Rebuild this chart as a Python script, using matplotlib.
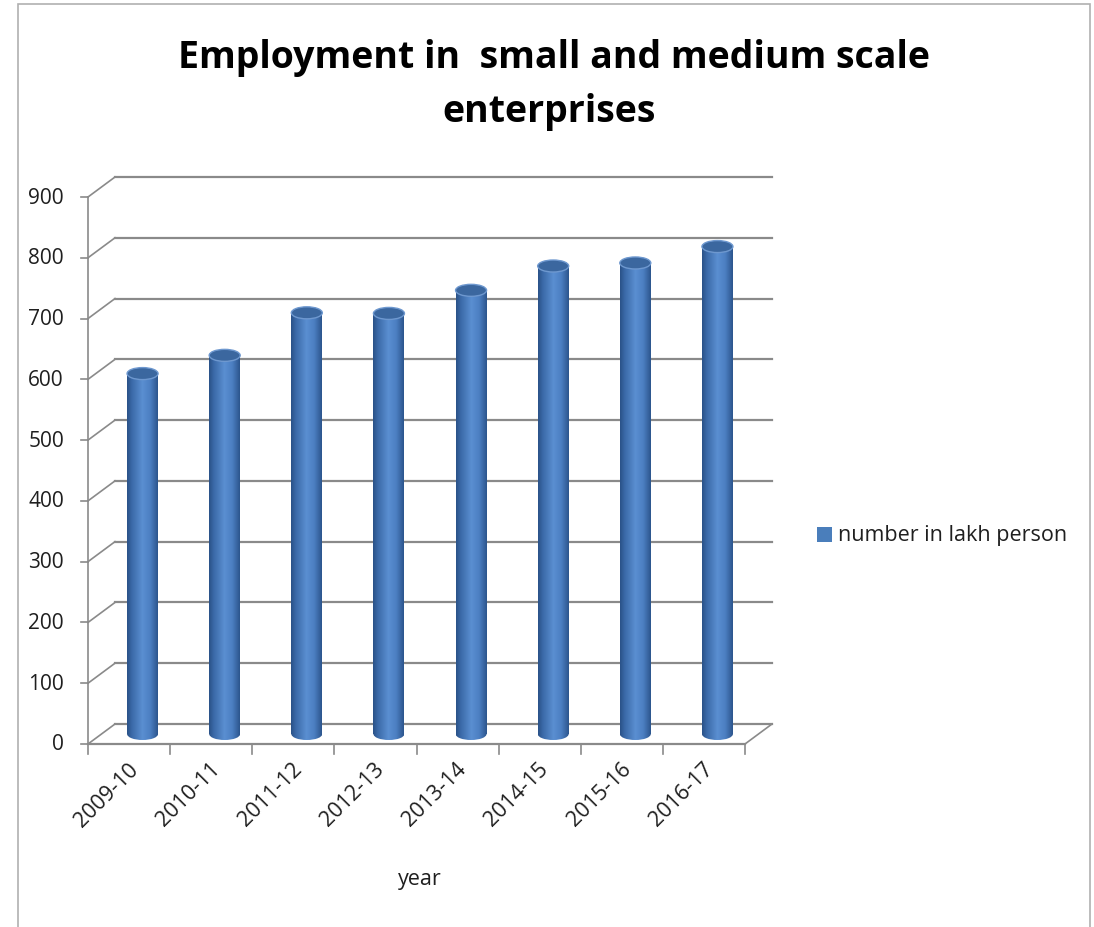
import numpy as np
import matplotlib
matplotlib.use("Agg")
import matplotlib.pyplot as plt
from matplotlib.patches import Ellipse, Rectangle
from matplotlib.colors import LinearSegmentedColormap

plt.rcParams['font.family'] = ['Open Sans', 'DejaVu Sans']

# data
years = ['2009-10', '2010-11', '2011-12', '2012-13', '2013-14', '2014-15', '2015-16', '2016-17']
employment = [593, 623, 693, 692, 730, 770, 775, 802]
yticks = list(range(0, 1000, 100))
series_name = 'number in lakh person'

fig = plt.figure(figsize=(10.94, 9.28), dpi=100)
W, H = 1094, 928

# front plane of the 3d box in pixels
x0, x1 = 88, 745
ytop, ybot = 198, 745
ax = fig.add_axes([x0 / W, (H - ybot) / H, (x1 - x0) / W, (ybot - ytop) / H])
n = len(years)
ax.set_xlim(-0.5, n - 0.5)
ax.set_ylim(0, 900)
ax.axis('off')

px_x = (x1 - x0) / n           # pixels per category
px_y = (ybot - ytop) / 900.0   # pixels per unit
dx = 27 / px_x                 # depth offset in data units
dy = 20 / px_y

grid_c = '#8a8a8a'
txt_c = '#1f1f1f'
for v in yticks:
    ax.plot([-0.5 + dx, n - 0.5 + dx], [v + dy, v + dy], color=grid_c, lw=1.6, clip_on=False, zorder=1)
    ax.plot([-0.5, -0.5 + dx], [v, v + dy], color=grid_c, lw=1.2, clip_on=False, zorder=1)
    ax.plot([-0.5 - 7 / px_x, -0.5], [v, v], color=grid_c, lw=1.2, clip_on=False, zorder=1)
    ax.text(-0.5 - 24 / px_x, v, str(v), ha='right', va='center', fontsize=15, color=txt_c)

# front axis and floor
ax.plot([-0.5, -0.5], [0, 900], color=grid_c, lw=1.2, clip_on=False, zorder=1)
ax.plot([-0.5, n - 0.5], [0, 0], color=grid_c, lw=1.6, clip_on=False, zorder=1)
ax.plot([n - 0.5, n - 0.5 + dx], [0, dy], color=grid_c, lw=1.2, clip_on=False, zorder=1)
for i in range(n + 1):
    ax.plot([i - 0.5, i - 0.5], [0, -10 / px_y], color=grid_c, lw=1.2, clip_on=False, zorder=1)

for i, lab in enumerate(years):
    ax.text(i - 0.02, -14 / px_y, lab, rotation=45, rotation_mode='anchor',
            ha='right', va='top', fontsize=15.5, color=txt_c)

# cylinders
cmap = LinearSegmentedColormap.from_list('cyl', [
    (0.0, '#2a5187'), (0.15, '#3a69a7'), (0.5, '#5a8fd1'),
    (0.75, '#4c7fc2'), (1.0, '#2c558c')])
grad = np.linspace(0, 1, 256).reshape(1, -1)
bw = 31 / px_x
eh = 12 / px_y
xs = np.arange(n) + dx / 2
bars = ax.bar(xs, employment, width=bw, bottom=dy / 2, color='none', zorder=3)
for b, xc, v in zip(bars, xs, employment):
    ext = [xc - bw / 2, xc + bw / 2, dy / 2 - eh / 2, v + dy / 2]
    im = ax.imshow(grad, cmap=cmap, extent=ext, aspect='auto', zorder=3)
    im.set_clip_path(b)
    bot = Ellipse((xc, dy / 2), bw, eh, facecolor='none', edgecolor='none', zorder=3)
    ax.add_patch(bot)
    im2 = ax.imshow(grad, cmap=cmap, extent=ext, aspect='auto', zorder=3)
    im2.set_clip_path(bot)
    top = Ellipse((xc, v + dy / 2), bw, eh, facecolor='#3b679f', edgecolor='#6e98cf',
                  lw=1.0, zorder=4)
    ax.add_patch(top)
ax.set_xlim(-0.5, n - 0.5)
ax.set_ylim(0, 900)

# title, axis label, legend
fig.text(554 / W, 1 - 68 / H, 'Employment in  small and medium scale',
         ha='center', va='baseline', fontsize=27, fontweight='bold', color='black')
fig.text(549 / W, 1 - 122 / H, 'enterprises',
         ha='center', va='baseline', fontsize=27, fontweight='bold', color='black')
fig.text(420 / W, 1 - 880 / H, 'year', ha='center', va='center', fontsize=15.5, color=txt_c)
fig.patches.append(Rectangle((817 / W, 1 - 543 / H), 15 / W, 15 / H, transform=fig.transFigure,
                             facecolor='#4a7ebb', edgecolor='none'))
fig.text(838 / W, 1 - 536 / H, series_name, ha='left', va='center', fontsize=15.5, color=txt_c)

# chart border
fig.patches.append(Rectangle((18 / W, -0.01), 1072 / W, 1 - 5 / H + 0.01, transform=fig.transFigure,
                             facecolor='none', edgecolor='#b0b0b0', lw=1.2))

fig.savefig('out.png', dpi=100)
